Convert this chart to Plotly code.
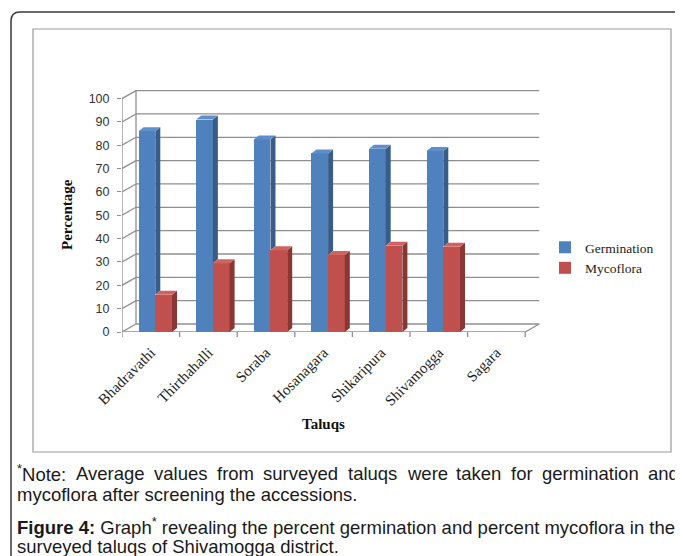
import plotly.graph_objects as go

# ---------------- data ----------------
categories = ["Bhadravathi", "Thirthahalli", "Soraba", "Hosanagara",
              "Shikaripura", "Shivamogga", "Sagara"]
germination = [86, 91, 82.5, 76.5, 78.5, 77.5, 0]
mycoflora = [16, 29.5, 35, 33, 37, 36.5, 0]
y_ticks = [0, 10, 20, 30, 40, 50, 60, 70, 80, 90, 100]

# ---------------- geometry / style ----------------
OFF = 8                      # browser body margin
W, H = 683 - OFF, 556 - OFF
PL, PR, PT, PB = 122, 545, 80, 332
ML, MT = PL - OFF, PT - OFF
MR, MB = W - (PR - OFF), H - (PB - OFF)
PW, PH = PR - PL, PB - PT
CAT_PX = 57.6
X0 = -0.5
XR = [X0, X0 + PW / CAT_PX]
YPX = 2.334
YR = [0, PH / YPX]

DXW, DYW = 14 / CAT_PX, 8 / YPX
DXB, DYB = 5 / CAT_PX, 4 / YPX
BW = 0.29
OFF_G, OFF_R = -0.067, 0.223

BLUE, BLUE_S, BLUE_T = "#4F81BD", "#385D8A", "#5F8FCB"
RED, RED_S, RED_T = "#C0504D", "#8A3633", "#CF6360"
GRID = "#8F8F8F"


def px_x(p):
    return (p - PL) / PW


def px_y(p):
    return (PB - p) / PH


n = len(categories)
x_end = X0 + n
xg = [i + OFF_G for i in range(n)]
xr = [i + OFF_R for i in range(n)]

fig = go.Figure()
fig.add_trace(go.Bar(x=xg, y=germination, width=BW, name="Germination",
                     marker=dict(color=BLUE, line=dict(width=0))))
fig.add_trace(go.Bar(x=xr, y=mycoflora, width=BW, name="Mycoflora",
                     marker=dict(color=RED, line=dict(width=0))))


def poly(xs, ys, color):
    fig.add_trace(go.Scatter(x=xs + [xs[0]], y=ys + [ys[0]], mode="lines",
                             fill="toself", fillcolor=color,
                             line=dict(width=0, color=color),
                             showlegend=False, hoverinfo="skip"))


for i in range(n):
    g, m = germination[i], mycoflora[i]
    if g > 0:
        a, b = xg[i] - BW / 2, xg[i] + BW / 2
        lo = min(m, g)
        poly([b, b + DXB, b + DXB, b], [lo, lo + DYB, g + DYB, g], BLUE_S)
        poly([a, a + DXB, b + DXB, b], [g, g + DYB, g + DYB, g], BLUE_T)
    if m > 0:
        a, b = xr[i] - BW / 2, xr[i] + BW / 2
        poly([b, b + DXB, b + DXB, b], [0, DYB, m + DYB, m], RED_S)
        poly([a, a + DXB, b + DXB, b], [m, m + DYB, m + DYB, m], RED_T)

shapes = []
lw = 1.3
for v in y_ticks:
    shapes.append(dict(type="line", xref="x", yref="y", layer="below",
                       x0=X0, y0=v, x1=X0 + DXW, y1=v + DYW,
                       line=dict(color=GRID, width=lw)))
    shapes.append(dict(type="line", xref="x", yref="y", layer="below",
                       x0=X0 + DXW, y0=v + DYW, x1=x_end + DXW, y1=v + DYW,
                       line=dict(color=GRID, width=lw)))
shapes.append(dict(type="line", xref="x", yref="y", layer="below",
                   x0=X0, y0=0, x1=X0, y1=y_ticks[-1],
                   line=dict(color=GRID, width=lw)))
shapes.append(dict(type="line", xref="x", yref="y", layer="below",
                   x0=X0 + DXW, y0=DYW, x1=X0 + DXW, y1=y_ticks[-1] + DYW,
                   line=dict(color=GRID, width=lw)))
shapes.append(dict(type="line", xref="x", yref="y", layer="below",
                   x0=X0, y0=0, x1=x_end, y1=0,
                   line=dict(color=GRID, width=lw)))
shapes.append(dict(type="line", xref="x", yref="y", layer="below",
                   x0=x_end, y0=0, x1=x_end + DXW, y1=DYW,
                   line=dict(color=GRID, width=lw)))
for k in range(n + 1):
    shapes.append(dict(type="line", xref="x", yref="paper",
                       x0=X0 + k, x1=X0 + k, y0=0, y1=px_y(PB + 5),
                       line=dict(color=GRID, width=lw)))

fx, fy, r = 11, 12, 9
path = (f"M {px_x(fx)},{px_y(570)} L {px_x(fx)},{px_y(fy + r)} "
        f"Q {px_x(fx)},{px_y(fy)} {px_x(fx + r)},{px_y(fy)} "
        f"L {px_x(700)},{px_y(fy)}")
shapes.append(dict(type="path", xref="paper", yref="paper", path=path,
                   line=dict(color="#3a3a3a", width=1.5)))
shapes.append(dict(type="rect", xref="paper", yref="paper",
                   x0=px_x(33), y0=px_y(452), x1=px_x(671), y1=px_y(29),
                   line=dict(color="#9a9a9a", width=1.2)))

annotations = [
    dict(text="<b>Percentage</b>", textangle=-90, x=px_x(67), y=px_y(215),
         xref="paper", yref="paper", showarrow=False,
         xanchor="center", yanchor="middle",
         font=dict(family="Liberation Serif", size=15, color="#111")),
    dict(text="<b>Taluqs</b>", x=px_x(323), y=px_y(424),
         xref="paper", yref="paper", showarrow=False,
         xanchor="center", yanchor="middle",
         font=dict(family="Liberation Serif", size=15, color="#111")),
]
CAP_SIZE = 18.5
cap_font = dict(family="Liberation Sans, Arial", size=CAP_SIZE, color="#1a1a1a")

# Arial / Liberation Sans advance widths (1/1000 em)
AW = {' ': 278, '*': 389, ':': 278, '.': 278, 'A': 667, 'N': 722, 'a': 556,
      'b': 556, 'c': 500, 'd': 556, 'e': 556, 'f': 278, 'g': 556, 'h': 556,
      'i': 222, 'k': 500, 'l': 222, 'm': 833, 'n': 556, 'o': 556, 'p': 556,
      'q': 556, 'r': 333, 's': 500, 't': 278, 'u': 556, 'v': 500, 'w': 722,
      'y': 500}


def text_w(s, size):
    return sum(AW.get(c, 556) for c in s) * size / 1000


# justified first line, word by word between the caption margins
note_words = ["Note:", "Average", "values", "from", "surveyed",
              "taluqs", "were", "taken", "for", "germination", "and"]
LINE_L, LINE_R = 15, 677
star_w = text_w("*", CAP_SIZE * 0.7)
widths = [text_w(w_, CAP_SIZE) for w_ in note_words]
widths[0] += star_w
gap = (LINE_R - LINE_L - sum(widths)) / (len(note_words) - 1)
xpos = LINE_L
for k, wtxt in enumerate(note_words):
    label = ("<sup>*</sup>" + wtxt) if k == 0 else wtxt
    annotations.append(dict(text=label, x=px_x(xpos), y=px_y(473),
                            xref="paper", yref="paper", xanchor="left",
                            yanchor="middle", showarrow=False, font=cap_font))
    xpos += widths[k] + gap

cap_lines = [
    ("mycoflora after screening the accessions.", 494),
    ("<b>Figure 4:</b> Graph<sup>*</sup> revealing the percent germination and percent mycoflora in the", 526),
    ("surveyed taluqs of Shivamogga district.", 546),
]
for txt, yy in cap_lines:
    annotations.append(dict(text=txt, x=px_x(LINE_L), y=px_y(yy), xref="paper",
                            yref="paper", xanchor="left", yanchor="middle",
                            showarrow=False, font=cap_font))

fig.update_layout(
    width=W, height=H,
    margin=dict(l=ML, r=MR, t=MT, b=MB, autoexpand=False),
    paper_bgcolor="white", plot_bgcolor="rgba(0,0,0,0)",
    showlegend=True,
    legend=dict(x=px_x(545), y=px_y(232), xanchor="left", yanchor="top",
                font=dict(family="Liberation Serif", size=13.5, color="#222"),
                bgcolor="rgba(0,0,0,0)"),
    xaxis=dict(range=XR, tickmode="array", tickvals=list(range(n)),
               ticktext=categories, tickangle=-45, showgrid=False,
               zeroline=False, showline=False, ticks="",
               ticklabelstandoff=8,
               tickfont=dict(family="Liberation Serif", size=15, color="#222")),
    yaxis=dict(range=YR, tickmode="array", tickvals=y_ticks,
               showgrid=False, zeroline=False, showline=False,
               ticks="outside", ticklen=4, tickcolor=GRID, tickwidth=1.3,
               ticklabelstandoff=5,
               tickfont=dict(family="Liberation Sans", size=12.5, color="#333")),
    shapes=shapes, annotations=annotations,
    bargap=0, barmode="overlay",
)

fig.write_html("out.html")
